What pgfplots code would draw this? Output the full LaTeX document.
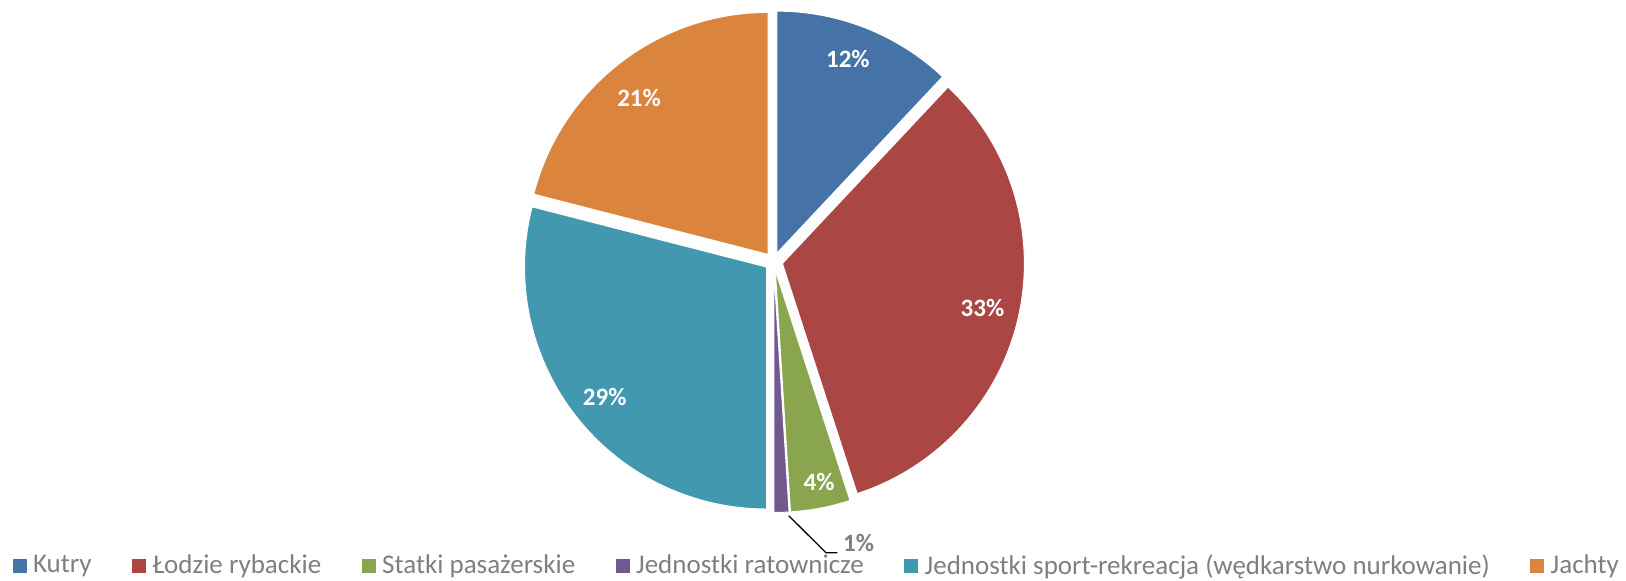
\documentclass[border=0pt]{standalone}
\usepackage{fontspec}
\setmainfont{Carlito}
\usepackage{pgfplots}
\usepackage{pgfplotstable}
\pgfplotsset{compat=1.18}
\definecolor{cA}{HTML}{4572A7}
\definecolor{cB}{HTML}{AA4643}
\definecolor{cC}{HTML}{89A54E}
\definecolor{cD}{HTML}{71588F}
\definecolor{cE}{HTML}{4198AF}
\definecolor{cF}{HTML}{DB843D}
\definecolor{txtgray}{HTML}{7F7F7F}
% value = share in percent; lr/da = label distance and angle shift
\pgfplotstableread[col sep=comma]{
value,lr,da,color
12,206.6,1.5,cA
33,205,0,cB
4,216,0.9,cC
1,206,0,cD
29,207.6,1,cE
21,202.4,1.8,cF
}\piedata
\def\slices{}%
\def\cum{0}%
\pgfplotsforeachungrouped \i in {0,...,5}{%
  \pgfplotstablegetelem{\i}{value}\of\piedata \let\val\pgfplotsretval
  \pgfplotstablegetelem{\i}{lr}\of\piedata \let\lr\pgfplotsretval
  \pgfplotstablegetelem{\i}{da}\of\piedata \let\da\pgfplotsretval
  \pgfplotstablegetelem{\i}{color}\of\piedata \let\col\pgfplotsretval
  \pgfmathsetmacro\sa{90-3.6*\cum}%
  \pgfmathsetmacro\ea{90-3.6*(\cum+\val)}%
  \pgfmathsetmacro\ma{(\sa+\ea)/2}%
  \pgfmathsetmacro\ox{773.6+9*cos(\ma)}%
  \pgfmathsetmacro\oy{318.5+9*sin(\ma)}%
  \pgfmathsetmacro\lx{\ox+\lr*cos(\ma+\da)}%
  \pgfmathsetmacro\ly{\oy+\lr*sin(\ma+\da)}%
  \xdef\slices{\unexpanded\expandafter{\slices}%
    \noexpand\fill[fill=\col,draw=white,line width=0.5pt] (axis cs:\ox,\oy) -- ++(\sa:121pt) arc[start angle=\sa,end angle=\ea,radius=121pt] -- cycle;}%
  \ifdim\val pt>2pt
    \xdef\slices{\unexpanded\expandafter{\slices}%
      \noexpand\node[text=white,inner sep=0pt,font=\noexpand\bfseries\noexpand\fontsize{12.5}{15}\noexpand\selectfont] at (axis cs:\lx,\ly) {\val\noexpand\%};}%
  \fi
  \pgfmathsetmacro\cum{\cum+\val}%
}%
\begin{document}%
\begin{tikzpicture}
\begin{axis}[
  scale only axis, width=813pt, height=290pt,
  xmin=0, xmax=1626, ymin=0, ymax=580,
  hide axis, clip=false,
  legend columns=6,
  legend image code/.code={\fill[#1] (0pt,-3.4pt) rectangle (7pt,3.4pt);},
  legend style={at={(axis cs:12.2,14.3)}, anchor=west, draw=none, fill=none,
    inner sep=0pt, text=txtgray, font=\fontsize{13.5}{15}\selectfont,
    nodes={inner sep=0pt},
    /tikz/every odd column/.append style={column sep=3.2pt},
    /tikz/every even column/.append style={column sep=20.3pt}},
]
\addlegendimage{fill=cA,draw=none}\addlegendentry{Kutry}
\addlegendimage{fill=cB,draw=none}\addlegendentry{Łodzie rybackie}
\addlegendimage{fill=cC,draw=none}\addlegendentry{Statki pasażerskie}
\addlegendimage{fill=cD,draw=none}\addlegendentry{Jednostki ratownicze}
\addlegendimage{fill=cE,draw=none}\addlegendentry{Jednostki sport-rekreacja (wędkarstwo nurkowanie)}
\addlegendimage{fill=cF,draw=none}\addlegendentry{Jachty}
\slices
\draw[black,line width=0.65pt] (axis cs:788.7,64.3) -- (axis cs:826,27.3) -- (axis cs:837.3,27.3);
\node[anchor=base west,inner sep=0pt,text=txtgray,font=\bfseries\fontsize{12.5}{15}\selectfont] at (axis cs:842.7,29) {1\%};
\coordinate (bbsw) at (rel axis cs:0,0);
\coordinate (bbne) at (rel axis cs:1,1);
\end{axis}
\pgfresetboundingbox
\path[use as bounding box] (bbsw) rectangle (bbne);
\end{tikzpicture}%
\end{document}
